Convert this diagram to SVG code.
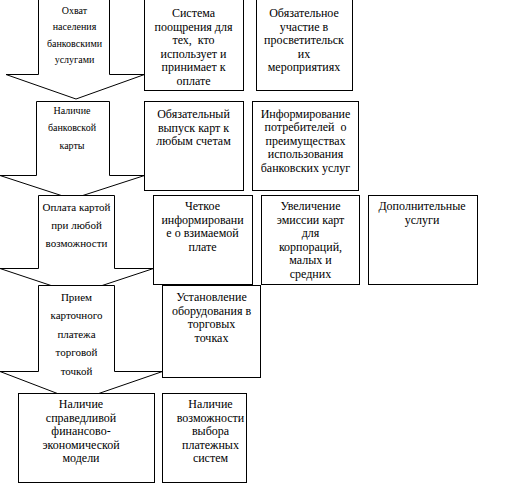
<svg xmlns="http://www.w3.org/2000/svg" width="521" height="484" viewBox="0 0 521 484">
<rect x="0" y="0" width="521" height="484" fill="#fff"/>
<g id="stage1">
<polygon fill="#fff" stroke="#000" stroke-width="1" points="38.5,-1 109.5,-1 109.5,74.5 144.5,74.5 76,99 6,74.5 38.5,74.5"/>
<text style="font-family:'Liberation Serif'" text-anchor="middle" font-size="10" x="74.5" y="13.5">Охват</text>
<text style="font-family:'Liberation Serif'" text-anchor="middle" font-size="10" x="74.5" y="30">населения</text>
<text style="font-family:'Liberation Serif'" text-anchor="middle" font-size="10" x="74.5" y="46.5">банковскими</text>
<text style="font-family:'Liberation Serif'" text-anchor="middle" font-size="10" x="74.5" y="63">услугами</text>
</g>
<g id="box1a">
<rect fill="#fff" stroke="#000" stroke-width="1" x="144.5" y="-1" width="99" height="91.5"/>
<text style="font-family:'Liberation Serif'" text-anchor="middle" font-size="12" x="193.5" y="17">Система</text>
<text style="font-family:'Liberation Serif'" text-anchor="middle" font-size="12" x="193.5" y="30.6">поощрения для</text>
<text style="font-family:'Liberation Serif';white-space:pre" text-anchor="middle" font-size="12" x="193.5" y="44.2">тех,  кто</text>
<text style="font-family:'Liberation Serif'" text-anchor="middle" font-size="12" x="193.5" y="57.8">использует и</text>
<text style="font-family:'Liberation Serif'" text-anchor="middle" font-size="12" x="193.5" y="71.4">принимает к</text>
<text style="font-family:'Liberation Serif'" text-anchor="middle" font-size="12" x="193.5" y="85">оплате</text>
</g>
<g id="box1b">
<rect fill="#fff" stroke="#000" stroke-width="1" x="256.5" y="-1" width="96" height="91.5"/>
<text style="font-family:'Liberation Serif'" text-anchor="middle" font-size="12" x="304" y="17">Обязательное</text>
<text style="font-family:'Liberation Serif'" text-anchor="middle" font-size="12" x="304" y="30.6">участие в</text>
<text style="font-family:'Liberation Serif'" text-anchor="middle" font-size="12" x="304" y="44.2">просветительск</text>
<text style="font-family:'Liberation Serif'" text-anchor="middle" font-size="12" x="304" y="57.8">их</text>
<text style="font-family:'Liberation Serif'" text-anchor="middle" font-size="12" x="304" y="71.4">мероприятиях</text>
</g>
<g id="stage2">
<polygon fill="#fff" stroke="#000" stroke-width="1" points="36.5,101.5 109.5,101.5 109.5,175.5 144.5,175.5 72,199 0,175.5 36.5,175.5"/>
<text style="font-family:'Liberation Serif'" text-anchor="middle" font-size="10" x="72" y="114">Наличие</text>
<text style="font-family:'Liberation Serif'" text-anchor="middle" font-size="10" x="72" y="131.3">банковской</text>
<text style="font-family:'Liberation Serif'" text-anchor="middle" font-size="10" x="72" y="148.6">карты</text>
</g>
<g id="box2a">
<rect fill="#fff" stroke="#000" stroke-width="1" x="144.5" y="101.5" width="99" height="89"/>
<text style="font-family:'Liberation Serif'" text-anchor="middle" font-size="12" x="193.5" y="118">Обязательный</text>
<text style="font-family:'Liberation Serif'" text-anchor="middle" font-size="12" x="193.5" y="131.6">выпуск карт к</text>
<text style="font-family:'Liberation Serif'" text-anchor="middle" font-size="12" x="193.5" y="145.2">любым счетам</text>
</g>
<g id="box2b">
<rect fill="#fff" stroke="#000" stroke-width="1" x="252.5" y="101.5" width="106" height="89"/>
<text style="font-family:'Liberation Serif'" text-anchor="middle" font-size="12" x="305.5" y="117.5">Информирование</text>
<text style="font-family:'Liberation Serif';white-space:pre" text-anchor="middle" font-size="12" x="305.5" y="131">потребителей  о</text>
<text style="font-family:'Liberation Serif'" text-anchor="middle" font-size="12" x="305.5" y="144.5">преимуществах</text>
<text style="font-family:'Liberation Serif'" text-anchor="middle" font-size="12" x="305.5" y="158">использования</text>
<text style="font-family:'Liberation Serif'" text-anchor="middle" font-size="12" x="305.5" y="171.5">банковских услуг</text>
</g>
<g id="stage3">
<polygon fill="#fff" stroke="#000" stroke-width="1" points="38.5,195.5 114.5,195.5 114.5,268.5 153.5,268.5 76.5,294 0,268.5 38.5,268.5"/>
<text style="font-family:'Liberation Serif'" text-anchor="middle" font-size="11" x="76.5" y="211">Оплата картой</text>
<text style="font-family:'Liberation Serif'" text-anchor="middle" font-size="11" x="76.5" y="229">при любой</text>
<text style="font-family:'Liberation Serif'" text-anchor="middle" font-size="11" x="76.5" y="247">возможности</text>
</g>
<g id="box3a">
<rect fill="#fff" stroke="#000" stroke-width="1" x="153.5" y="195.5" width="99" height="89"/>
<text style="font-family:'Liberation Serif'" text-anchor="middle" font-size="12" x="202.5" y="210">Четкое</text>
<text style="font-family:'Liberation Serif'" text-anchor="middle" font-size="12" x="202.5" y="223.5">информировани</text>
<text style="font-family:'Liberation Serif'" text-anchor="middle" font-size="12" x="202.5" y="237">е о взимаемой</text>
<text style="font-family:'Liberation Serif'" text-anchor="middle" font-size="12" x="202.5" y="250.5">плате</text>
</g>
<g id="box3b">
<rect fill="#fff" stroke="#000" stroke-width="1" x="261.5" y="195.5" width="98" height="89"/>
<text style="font-family:'Liberation Serif'" text-anchor="middle" font-size="12" x="310.5" y="210">Увеличение</text>
<text style="font-family:'Liberation Serif'" text-anchor="middle" font-size="12" x="310.5" y="223.5">эмиссии карт</text>
<text style="font-family:'Liberation Serif'" text-anchor="middle" font-size="12" x="310.5" y="237">для</text>
<text style="font-family:'Liberation Serif'" text-anchor="middle" font-size="12" x="310.5" y="250.5">корпораций,</text>
<text style="font-family:'Liberation Serif'" text-anchor="middle" font-size="12" x="310.5" y="264">малых и</text>
<text style="font-family:'Liberation Serif'" text-anchor="middle" font-size="12" x="310.5" y="277.5">средних</text>
</g>
<g id="box3c">
<rect fill="#fff" stroke="#000" stroke-width="1" x="368.5" y="195.5" width="109" height="89"/>
<text style="font-family:'Liberation Serif'" text-anchor="middle" font-size="12" x="422" y="210">Дополнительные</text>
<text style="font-family:'Liberation Serif'" text-anchor="middle" font-size="12" x="422" y="223.5">услуги</text>
</g>
<g id="stage4">
<polygon fill="#fff" stroke="#000" stroke-width="1" points="38.5,285.5 114.5,285.5 114.5,371.5 162.5,371.5 77,401 0,371.5 38.5,371.5"/>
<text style="font-family:'Liberation Serif'" text-anchor="middle" font-size="11" x="76.5" y="301">Прием</text>
<text style="font-family:'Liberation Serif'" text-anchor="middle" font-size="11" x="76.5" y="319.4">карточного</text>
<text style="font-family:'Liberation Serif'" text-anchor="middle" font-size="11" x="76.5" y="337.8">платежа</text>
<text style="font-family:'Liberation Serif'" text-anchor="middle" font-size="11" x="76.5" y="356.2">торговой</text>
<text style="font-family:'Liberation Serif'" text-anchor="middle" font-size="11" x="76.5" y="374.6">точкой</text>
</g>
<g id="box4a">
<rect fill="#fff" stroke="#000" stroke-width="1" x="162.5" y="285.5" width="98" height="92"/>
<text style="font-family:'Liberation Serif'" text-anchor="middle" font-size="12" x="211.5" y="301">Установление</text>
<text style="font-family:'Liberation Serif'" text-anchor="middle" font-size="12" x="211.5" y="314.7">оборудования в</text>
<text style="font-family:'Liberation Serif'" text-anchor="middle" font-size="12" x="211.5" y="328.4">торговых</text>
<text style="font-family:'Liberation Serif'" text-anchor="middle" font-size="12" x="211.5" y="342">точках</text>
</g>
<g id="stage5">
<rect fill="#fff" stroke="#000" stroke-width="1" x="18.5" y="393.5" width="136" height="89"/>
<text style="font-family:'Liberation Serif'" text-anchor="middle" font-size="12" x="81" y="408">Наличие</text>
<text style="font-family:'Liberation Serif'" text-anchor="middle" font-size="12" x="81" y="421.5">справедливой</text>
<text style="font-family:'Liberation Serif'" text-anchor="middle" font-size="12" x="81" y="435">финансово-</text>
<text style="font-family:'Liberation Serif'" text-anchor="middle" font-size="12" x="81" y="448.5">экономической</text>
<text style="font-family:'Liberation Serif'" text-anchor="middle" font-size="12" x="81" y="462">модели</text>
</g>
<g id="box5a">
<rect fill="#fff" stroke="#000" stroke-width="1" x="162.5" y="393.5" width="84" height="89"/>
<text style="font-family:'Liberation Serif'" text-anchor="middle" font-size="12" x="210.5" y="408">Наличие</text>
<text style="font-family:'Liberation Serif'" text-anchor="middle" font-size="12" x="210.5" y="421.5">возможности</text>
<text style="font-family:'Liberation Serif'" text-anchor="middle" font-size="12" x="210.5" y="435">выбора</text>
<text style="font-family:'Liberation Serif'" text-anchor="middle" font-size="12" x="210.5" y="448.5">платежных</text>
<text style="font-family:'Liberation Serif'" text-anchor="middle" font-size="12" x="210.5" y="462">систем</text>
</g>
<g id="connectors"/>
</svg>
